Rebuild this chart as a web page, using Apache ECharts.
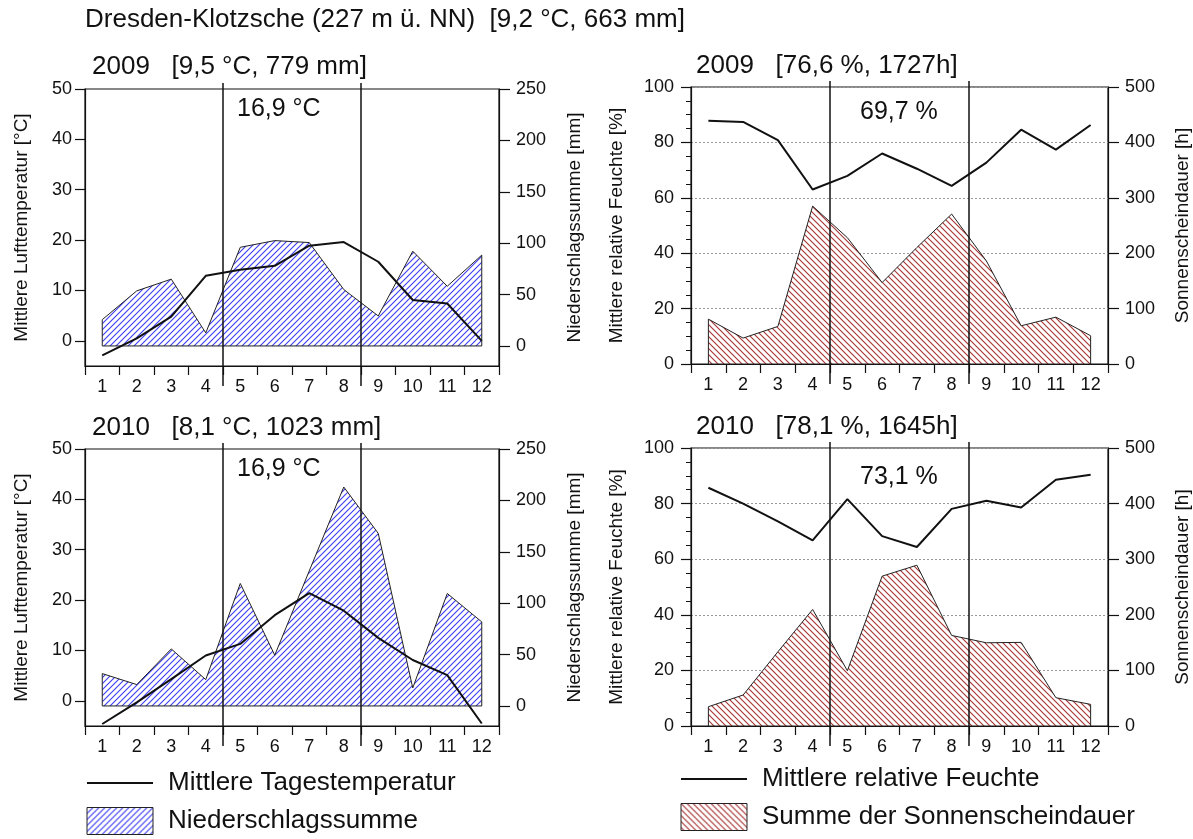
<!DOCTYPE html>
<html>
<head>
<meta charset="utf-8">
<script src="https://cdn.jsdelivr.net/npm/echarts@6/dist/echarts.min.js"></script>
<style>
  html, body { margin: 0; padding: 0; background: #fff; }
  #chart { width: 1193px; height: 839px; }
</style>
</head>
<body>
<div id="chart"></div>
<script>
// Monthly climate data, Dresden-Klotzsche
const months = [1, 2, 3, 4, 5, 6, 7, 8, 9, 10, 11, 12];
const monthEdges = [0.5, 1.5, 2.5, 3.5, 4.5, 5.5, 6.5, 7.5, 8.5, 9.5, 10.5, 11.5, 12.5];
const seasonEdges = [4.5, 8.5];   // vegetation period May–August

const temp2009   = [-2.9, 0.5, 4.8, 12.9, 14.1, 14.9, 18.9, 19.6, 15.7, 8.1, 7.4, 0.0];
const precip2009 = [25.6, 53.6, 65.0, 12.7, 96.0, 102.5, 100.6, 54.9, 29.2, 92.2, 58.1, 88.4];
const temp2010   = [-4.6, -0.3, 4.3, 9.0, 11.3, 17.0, 21.4, 17.9, 12.5, 8.1, 5.1, -4.5];
const precip2010 = [31.5, 20.8, 55.5, 25.6, 119.2, 49.4, 131.4, 213.0, 167.9, 17.5, 109.4, 81.8];

const humid2009  = [87.8, 87.4, 80.8, 63.0, 67.9, 76.0, 70.5, 64.3, 72.7, 84.6, 77.4, 86.3];
const sun2009    = [81.0, 46.8, 67.8, 285.0, 228.0, 147.0, 210.3, 270.7, 186.0, 69.0, 84.6, 51.0];
const humid2010  = [85.7, 80.0, 73.6, 66.8, 81.6, 68.3, 64.4, 78.1, 81.0, 78.6, 88.6, 90.4];
const sun2010    = [34.7, 55.7, 133.5, 209.6, 99.4, 269.5, 289.2, 162.9, 149.7, 150.4, 50.9, 38.9];

const tempTicks   = [0, 10, 20, 30, 40, 50];
const precipTicks = [0, 50, 100, 150, 200, 250];

const mainTitle = 'Dresden-Klotzsche (227 m ü. NN)  [9,2 °C, 663 mm]';
const panelTitles = ['2009   [9,5 °C, 779 mm]', '2009   [76,6 %, 1727h]',
                     '2010   [8,1 °C, 1023 mm]', '2010   [78,1 %, 1645h]'];
const seasonLabels = [['16,9 °C', '354 mm'], ['69,7 %', '856 h'],
                      ['16,9 °C', '513 mm'], ['73,1 %', '821 h']];

const NAME_T = 'Mittlere Tagestemperatur';
const NAME_P = 'Niederschlagssumme';
const NAME_H = 'Mittlere relative Feuchte';
const NAME_S = 'Summe der Sonnenscheindauer';

const FONT = 'Liberation Sans, Arial, sans-serif';
const INK = '#111';

// diagonal hatch fill; dir > 0 draws '/', dir < 0 draws '\'
function hatch(color, step, dir, width) {
  const c = document.createElement('canvas');
  c.width = step; c.height = step;
  const g = c.getContext('2d');
  g.fillStyle = '#fff';
  g.fillRect(0, 0, step, step);
  g.strokeStyle = color;
  g.lineWidth = width;
  g.beginPath();
  if (dir > 0) {
    g.moveTo(-1, step + 1); g.lineTo(step + 1, -1);
    g.moveTo(-1, 1); g.lineTo(1, -1);
    g.moveTo(step - 1, step + 1); g.lineTo(step + 1, step - 1);
  } else {
    g.moveTo(-1, -1); g.lineTo(step + 1, step + 1);
    g.moveTo(step - 1, -1); g.lineTo(step + 1, 1);
    g.moveTo(-1, step - 1); g.lineTo(1, step + 1);
  }
  g.stroke();
  return { image: c, repeat: 'repeat' };
}
const blueHatch = () => hatch('#3c3cf4', 6, 1, 1.1);
const redHatch = () => hatch('#a83232', 6, -1, 1.1);

const pts = arr => months.map((m, i) => [m, arr[i]]);
// closing edges of a filled profile: sides and baseline at zero
const outline = arr => [[months[0], arr[0]], [months[0], 0],
                        [months[months.length - 1], 0], [months[months.length - 1], arr[arr.length - 1]]];

const grids = [
  { left: 85, top: 89, width: 414, height: 277 },
  { left: 691, top: 87, width: 422, height: 277 },
  { left: 85, top: 449, width: 414, height: 277 },
  { left: 691, top: 448, width: 422, height: 278 }
];

const axisLineStyle = { color: INK, width: 1.2 };
const labelStyle = { color: INK, fontFamily: FONT, fontSize: 18 };
const nameStyle = { color: INK, fontFamily: FONT, fontSize: 19 };

function xAxisFor(gi) {
  return {
    type: 'value', gridIndex: gi, min: 0.5, max: 12.5, position: 'bottom',
    axisLine: { show: true, onZero: false, lineStyle: axisLineStyle },
    axisTick: { show: true, length: 9, customValues: monthEdges, lineStyle: axisLineStyle },
    axisLabel: { customValues: months, margin: 12, ...labelStyle },
    splitLine: { show: false }
  };
}

function tempAxes(gi) {
  return [{
    type: 'value', gridIndex: gi, min: -5, max: 50, position: 'left',
    name: 'Mittlere Lufttemperatur [°C]', nameLocation: 'middle', nameGap: 54, nameTextStyle: nameStyle,
    axisLine: { show: true, lineStyle: axisLineStyle },
    axisTick: { show: true, length: 10, customValues: tempTicks, lineStyle: axisLineStyle },
    axisLabel: { customValues: tempTicks, margin: 13, ...labelStyle },
    splitLine: { show: false }
  }, {
    type: 'value', gridIndex: gi, min: -19.5, max: 250, position: 'right',
    name: 'Niederschlagssumme [mm]', nameLocation: 'middle', nameGap: 66, nameRotate: 90,
    nameTextStyle: nameStyle,
    axisLine: { show: true, lineStyle: axisLineStyle },
    axisTick: { show: true, length: 11, customValues: precipTicks, lineStyle: axisLineStyle },
    axisLabel: { customValues: precipTicks, margin: 17, ...labelStyle },
    splitLine: { show: false }
  }];
}

function humidAxes(gi) {
  return [{
    type: 'value', gridIndex: gi, min: 0, max: 100, interval: 20, position: 'left',
    name: 'Mittlere relative Feuchte [%]', nameLocation: 'middle', nameGap: 65, nameTextStyle: nameStyle,
    axisLine: { show: true, lineStyle: axisLineStyle },
    axisTick: { show: true, length: 10, lineStyle: axisLineStyle },
    minorTick: { show: true, splitNumber: 4, length: 5, lineStyle: { color: INK, width: 1 } },
    axisLabel: { margin: 17, ...labelStyle },
    splitLine: { show: true, lineStyle: { type: [2, 2], color: '#9a9a9a', width: 1 } }
  }, {
    type: 'value', gridIndex: gi, min: 0, max: 500, interval: 100, position: 'right',
    name: 'Sonnenscheindauer [h]', nameLocation: 'middle', nameGap: 65, nameRotate: 90,
    nameTextStyle: nameStyle,
    axisLine: { show: true, lineStyle: axisLineStyle },
    axisTick: { show: true, length: 11, lineStyle: axisLineStyle },
    axisLabel: { margin: 17, ...labelStyle },
    splitLine: { show: false }
  }];
}

// long vertical separators at the month edges bounding the vegetation period
function seasonSeries(gi) {
  return {
    type: 'custom', xAxisIndex: gi, yAxisIndex: gi * 2, silent: true, z: 10,
    data: seasonEdges.map(v => [v]),
    encode: { x: 0 },
    renderItem: (params, api) => {
      const x = api.coord([api.value(0), 0])[0];
      const cs = params.coordSys;
      return {
        type: 'line',
        shape: { x1: x, y1: cs.y - 6, x2: x, y2: cs.y + cs.height + 20 },
        style: { stroke: INK, lineWidth: 1.5 }
      };
    }
  };
}

function areaSeries(gi, name, data, fill) {
  return [{
    type: 'line', name: name, xAxisIndex: gi, yAxisIndex: gi * 2 + 1,
    data: pts(data), symbol: 'none', showSymbol: false, z: 2,
    lineStyle: { color: '#222', width: 1 },
    areaStyle: { color: fill, opacity: 1 }
  }, {
    type: 'line', name: name + ' (Rand)', xAxisIndex: gi, yAxisIndex: gi * 2 + 1,
    data: outline(data), symbol: 'none', showSymbol: false, silent: true, z: 3,
    lineStyle: { color: '#222', width: 1 }
  }];
}

function lineSeries(gi, name, data) {
  return {
    type: 'line', name: name, xAxisIndex: gi, yAxisIndex: gi * 2,
    data: pts(data), symbol: 'none', showSymbol: false, z: 5,
    lineStyle: { color: INK, width: 2 },
    itemStyle: { color: INK }
  };
}

const series = [
  ...areaSeries(0, NAME_P, precip2009, blueHatch()), lineSeries(0, NAME_T, temp2009), seasonSeries(0),
  ...areaSeries(1, NAME_S, sun2009, redHatch()), lineSeries(1, NAME_H, humid2009), seasonSeries(1),
  ...areaSeries(2, NAME_P, precip2010, blueHatch()), lineSeries(2, NAME_T, temp2010), seasonSeries(2),
  ...areaSeries(3, NAME_S, sun2010, redHatch()), lineSeries(3, NAME_H, humid2010), seasonSeries(3)
];

const textAt = (x, y, text, size) => ({
  type: 'text', x: x, y: y, silent: true,
  style: { text: text, fill: INK, fontFamily: FONT, fontSize: size, verticalAlign: 'middle' }
});

const titlePos = [[92, 67], [696, 66], [92, 428], [696, 427]];
const seasonPos = [[[237, 109], [237, 306]], [[860, 112], [860, 307]],
                   [[237, 469], [237, 666]], [[860, 477], [860, 672]]];

const graphic = [textAt(85, 20, mainTitle, 26)];
panelTitles.forEach((t, i) => graphic.push(textAt(titlePos[i][0], titlePos[i][1], t, 26)));
seasonLabels.forEach((pair, i) => {
  graphic.push(textAt(seasonPos[i][0][0], seasonPos[i][0][1], pair[0], 25));
  graphic.push(textAt(seasonPos[i][1][0], seasonPos[i][1][1], pair[1], 25));
});

const legendText = { color: INK, fontFamily: FONT, fontSize: 26, padding: [0, 0, 0, 10] };

const option = {
  backgroundColor: '#fff',
  animation: false,
  grid: grids.map(g => ({ ...g, show: true, borderColor: INK, borderWidth: 1.2, backgroundColor: 'transparent' })),
  xAxis: [0, 1, 2, 3].map(xAxisFor),
  yAxis: [...tempAxes(0), ...humidAxes(1), ...tempAxes(2), ...humidAxes(3)],
  legend: [{
    left: 86, top: 770, orient: 'vertical', padding: 0, itemWidth: 66, itemHeight: 27, itemGap: 11,
    selectedMode: false, textStyle: legendText,
    data: [
      { name: NAME_T, itemStyle: { opacity: 0 }, lineStyle: { color: INK, width: 2 } },
      { name: NAME_P, icon: 'rect', itemStyle: { color: blueHatch(), borderColor: '#222', borderWidth: 1 } }
    ]
  }, {
    left: 680, top: 766, orient: 'vertical', padding: 0, itemWidth: 66, itemHeight: 27, itemGap: 11,
    selectedMode: false, textStyle: legendText,
    data: [
      { name: NAME_H, itemStyle: { opacity: 0 }, lineStyle: { color: INK, width: 2 } },
      { name: NAME_S, icon: 'rect', itemStyle: { color: redHatch(), borderColor: '#222', borderWidth: 1 } }
    ]
  }],
  graphic: graphic,
  series: series
};

const chart = echarts.init(document.getElementById('chart'), null, { renderer: 'canvas' });
chart.setOption(option);
</script>
</body>
</html>
